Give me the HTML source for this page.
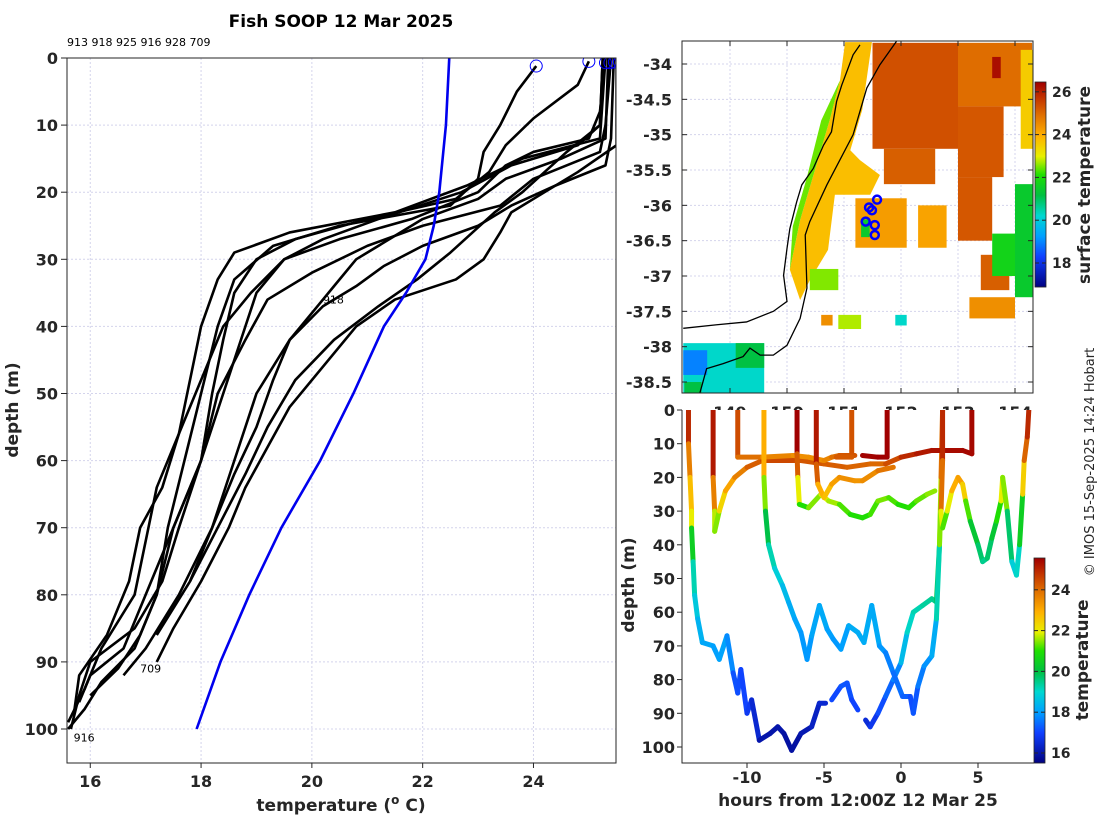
<!DOCTYPE html>
<html><head><meta charset="utf-8"><style>
html,body{margin:0;padding:0;background:#fff;}
svg{display:block;font-family:"DejaVu Sans","Liberation Sans",sans-serif;}
.tk{font-size:16px;font-weight:bold;fill:#262626;}
.lb{font-size:17px;font-weight:bold;fill:#262626;}
</style></head><body>
<svg id="fig" width="1100" height="820" viewBox="0 0 1100 820" xmlns="http://www.w3.org/2000/svg">
<defs>
<clipPath id="clipL"><rect x="67" y="58" width="549" height="705"/></clipPath>
<clipPath id="clipM"><rect x="682" y="41" width="351" height="352"/></clipPath>
<clipPath id="clipB"><rect x="682" y="410" width="352" height="353"/></clipPath>
</defs>
<rect x="0" y="0" width="1100" height="820" fill="#fff"/>
<text x="341" y="27" text-anchor="middle" style="font-size:17px;font-weight:bold" fill="#000">Fish SOOP 12 Mar 2025</text>
<text x="67" y="46" style="font-size:11px" fill="#000">913 918 925 916 928 709</text>
<g id="left"></g>
<g id="map"></g>
<g id="bot"></g>
<text transform="translate(1094,462) rotate(-90)" text-anchor="middle" style="font-size:13px" fill="#262626">© IMOS 15-Sep-2025 14:24 Hobart</text>
</svg>
<script>
// ---------- data ----------
const xTicksL = [16,18,20,22,24];
const yTicksL = [0,10,20,30,40,50,60,70,80,90,100];
const climDepth = [0,10,20,25,30,35,40,50,60,70,80,90,100];
const climTemp = [22.48,22.42,22.3,22.2,22.05,21.7,21.3,20.75,20.15,19.45,18.87,18.35,17.92];
const profA = [[1.2,24.05],[5,23.7],[10,23.4],[14,23.1],[18,23.0],[22,22.5],[25,20.5],[28,19.3],[33,18.6],[40,18.3],[50,18.0],[60,17.7],[70,17.4],[80,17.2],[88,16.8],[93,16.2],[97,15.9],[100,15.6]];
const profB = [[0.5,25.0],[4,24.8],[9,24.0],[13,23.5],[17,23.2],[21,22.6],[24,21.0],[27,19.7],[30,19.0],[35,18.6],[42,18.4],[50,18.2],[60,18.0],[70,17.5],[80,17.0],[88,16.6],[92,16.0],[96,15.8]];
const profC = [[0,25.3],[8,25.2],[12,25.0],[14,24.0],[16,23.5],[20,23.0],[24,21.8],[27,20.5],[30,19.5],[35,19.0],[40,18.8],[50,18.4],[60,18.0],[70,17.5],[80,17.2],[86,16.9],[91,16.5],[95,16.0]];
const profD = [[0,25.4],[10,25.3],[14,25.2],[18,24.0],[22,23.4],[25,22.0],[28,21.0],[32,20.0],[36,19.2],[42,18.8],[50,18.3],[60,18.0],[70,17.6],[78,17.3],[85,16.8],[90,16.0],[95,15.8],[100,15.65]];
const profE = [[0,25.45],[12,25.4],[16,25.3],[19,24.4],[22,23.6],[25,23.0],[28,22.0],[31,21.3],[34,20.8],[37,20.2],[42,19.6],[50,19.0],[60,18.6],[70,18.2],[80,17.6],[88,17.0],[92,16.6]];
const profF = [[0,25.5],[13,25.5],[17,24.8],[20,24.2],[23,23.6],[26,23.4],[30,23.1],[33,22.6],[36,21.5],[40,20.8],[46,20.2],[52,19.6],[58,19.2],[64,18.8],[70,18.5],[78,18.0],[85,17.5],[90,17.2]];
const profG = [[0,25.35],[12,25.3],[15,24.5],[18,23.5],[21,23.0],[24,22.0],[27,21.4],[30,20.8],[34,20.4],[37,20.1],[42,19.6],[48,19.3],[55,19.0],[62,18.6],[70,18.2],[78,17.8],[86,17.2]];
const profH = [[0,25.25],[10,25.2],[14,24.6],[17,24.2],[20,23.8],[23,23.3],[26,22.9],[29,22.5],[33,21.9],[37,21.2],[42,20.4],[48,19.7],[55,19.2],[62,18.8],[70,18.3],[78,17.8]];
const profI = [[0,25.3],[12,25.2],[15,23.8],[19,22.8],[23,21.5],[26,19.6],[29,18.6],[33,18.3],[40,18.0],[48,17.8],[56,17.6],[64,17.3],[70,16.9],[78,16.7],[86,16.3],[92,15.8],[98,15.7]];
const profJ = [[0,25.25],[10,25.2],[13,24.8],[16,23.6],[20,22.7],[24,21.2],[27,20.2],[30,19.5],[35,18.9],[40,18.4],[48,18.0],[56,17.6],[64,17.2],[72,17.0],[80,16.8],[88,16.2],[94,15.9],[99,15.6]];
const startMarkers = [[1.2,24.05],[0.5,25.0],[0.7,25.3],[0.7,25.38],[0.6,25.46],[0.6,25.55]];
const profLabels = [["918",36,20.2],["916",101.3,15.7],["709",91,16.9]];

const mapLatTicks = [-34,-34.5,-35,-35.5,-36,-36.5,-37,-37.5,-38,-38.5];
const mapLonTicks = [149,150,151,152,153,154];
const sstCbTicks = [18,20,22,24,26];
const sstRects = [[151.5,-33.7,153.0,-35.2,25.4],[153.0,-33.7,154.3,-34.6,25.0],[153.0,-34.6,153.8,-35.6,25.3],[151.7,-35.2,152.6,-35.7,25.2],[153.0,-35.6,153.6,-36.5,25.3],[153.4,-36.7,153.9,-37.2,25.2],[153.2,-37.3,154.0,-37.6,24.5],[153.6,-33.9,153.75,-34.2,26.3],[151.2,-35.9,152.1,-36.6,24.3],[152.3,-36.0,152.8,-36.6,24.2],[151.3,-36.2,151.45,-36.45,21.5],[148.18,-37.95,149.6,-38.66,20.3],[148.18,-38.05,148.6,-38.4,19.0],[149.1,-37.95,149.6,-38.3,21.2],[148.2,-38.5,148.5,-38.66,21.2],[154.0,-35.7,154.32,-37.3,21.5],[153.6,-36.4,154.0,-37.0,21.8],[151.9,-37.55,152.1,-37.7,20.3],[150.9,-37.55,151.3,-37.75,22.8],[150.6,-37.55,150.8,-37.7,24.5],[150.4,-36.9,150.9,-37.2,22.6],[154.1,-33.8,154.32,-35.2,23.6]];
const sstCoastStrip = [[151.02,-33.69],[151.49,-33.69],[151.32,-34.65],[151.11,-35.22],[151.28,-35.36],[151.63,-35.57],[151.46,-35.85],[150.84,-35.85],[150.72,-36.63],[150.40,-37.06],[150.23,-37.34],[150.05,-36.91],[150.23,-36.21],[150.49,-35.5],[150.75,-34.79],[150.93,-34.23]];
const sstCoastStripT = 23.8;
const sstInnerStrip = [[150.93,-34.23],[150.75,-34.79],[150.49,-35.5],[150.23,-36.21],[150.05,-36.91],[150.1,-36.3],[150.35,-35.6],[150.6,-34.8]];
const sstInnerStripT = 22.5;
const coastLon = [151.28,151.16,150.96,150.87,150.78,150.64,150.46,150.26,150.17,150.05,150.0,149.94,150.0,149.76,149.29,148.77,148.18];
const coastLat = [-33.73,-33.87,-34.30,-34.53,-34.96,-35.15,-35.48,-35.71,-35.95,-36.33,-36.61,-36.99,-37.36,-37.5,-37.65,-37.69,-37.74];
const isoLon = [151.92,151.63,151.40,151.16,150.70,150.40,150.32,150.35,150.23,150.0,149.76,149.53,149.35,149.23,148.88,148.59,148.47];
const isoLat = [-33.68,-34.01,-34.34,-35.0,-35.71,-36.23,-36.42,-37.17,-37.6,-37.98,-38.12,-38.12,-38.02,-38.14,-38.24,-38.31,-38.66];
const stationLon = [151.58,151.44,151.49,151.38,151.54,151.54];
const stationLat = [-35.92,-36.03,-36.07,-36.23,-36.28,-36.42];

const botXTicks = [-10,-5,0,5];
const botYTicks = [0,10,20,30,40,50,60,70,80,90,100];
const tempCbTicks = [16,18,20,22,24];
const track1 = [[-13.8,0,25.5],[-13.8,10,24.5],[-13.7,20,23],[-13.6,30,22.5],[-13.6,35,21.5],[-13.5,45,19.5],[-13.4,55,19],[-13.2,62,18.5],[-12.9,69,18.2],[-12.2,70,18.1],[-11.8,74,18],[-11.3,67,18.2],[-10.9,78,17.4],[-10.6,84,17],[-10.4,77,17.3],[-10.0,90,16.8],[-9.7,86,16.9],[-9.2,98,16],[-8.5,96,16],[-8.0,94,16],[-7.6,96,16],[-7.1,101,15.8],[-6.5,96,16],[-5.8,94,16.2],[-5.3,87,16.4],[-4.9,87,16.5]];
const track1b = [[-4.5,86,17],[-3.9,82,17.2],[-3.5,81,17.3],[-3.2,86,17.1],[-2.8,89,17]];
const track1c = [[-2.3,92,16.5],[-2.0,94,16.6],[-1.5,90,17],[-1.0,85,17.3],[-0.5,80,17.5],[0,75,18],[0.4,66,19],[0.8,60,19.2],[1.4,58,19.3],[2.0,56,19.5],[2.3,57,19.5],[2.5,40,20.5],[2.6,20,23],[2.7,0,25]];
const track2 = [[-12.2,0,25.5],[-12.2,20,25],[-12.1,30,22.5],[-12.1,36,21],[-11.8,30,22],[-11.4,24,22.8],[-10.8,20,23.5],[-10,17,24],[-9,15,24.5],[-8,15,24.6],[-6.5,15,24.5],[-5,16,24.2],[-3.5,17,24.3],[-2,16,24],[-1,16,24.2],[0,14,24.8],[1,13,25.2],[2,12,25.3],[3,12,25.4],[4,12,25.5],[4.6,13,25.5],[4.6,0,25.5]];
const track3 = [[-10.6,0,24.8],[-10.6,14,24.2],[-9,14,23.8],[-7,13.5,23.5],[-6,14,23.5],[-5,15,23.5],[-4.5,14,23.8],[-4,13.5,24.2],[-3,13.5,24.5]];
const track3b = [[-2.5,13.5,25.5],[-1.5,14,25.6],[-0.9,14,25.7],[-0.9,0,25.7]];
const track4 = [[-8.9,0,23.5],[-8.9,20,22.5],[-8.8,30,20.5],[-8.6,40,19.5],[-8.2,47,19],[-7.7,52,18.7],[-7.3,57,18.3],[-6.9,62,18.2],[-6.5,66,18],[-6.1,74,17.9],[-5.8,67,18],[-5.3,58,18.3],[-4.8,65,18.1],[-4.4,68,18],[-3.9,71,17.9],[-3.4,64,18.2],[-2.8,66,18.3],[-2.4,69,18.2],[-1.9,58,18.3],[-1.4,70,18.1],[-1,72,17.8],[-0.5,78,17.6],[0.1,85,17.4],[0.6,85,17.3],[0.8,90,17],[1.1,82,17.5],[1.5,76,17.8],[2,73,18],[2.3,62,18.5],[2.5,40,20],[2.6,25,23]];
const track5 = [[-6.75,0,25.7],[-6.75,13,25.5],[-6.7,20,23],[-6.6,28,21],[-6,29,21],[-5.2,25,22],[-4.7,27,21.8],[-4,28,21.5],[-3.3,31,21],[-2.5,32,21],[-2,31,21],[-1.5,27,21.4],[-0.8,26,21.5],[-0.2,28,21],[0.5,29,21],[1,27,21.2],[1.7,25,21.5],[2.2,24,21.6]];
const track6 = [[-5.5,0,25.5],[-5.5,16,25],[-5.4,22,23.5],[-5,26,22.5],[-4.5,22,23],[-4,20,23.5],[-3,21,23.5],[-2.5,21,23.3],[-1.5,18,23.8],[-0.5,17,24]];
const track7 = [[-3.2,0,24.5],[-3.2,14,24.3],[-4.2,14,24.3]];
const track8 = [[2.7,0,25],[2.7,15,25],[2.6,30,23],[2.7,35,21],[3,30,21.5],[3.3,24,22.5],[3.7,20,23.5],[4,22,23],[4.2,27,22],[4.5,33,20.5],[5,40,20],[5.3,45,19.5],[5.6,44,19.5],[5.9,38,20],[6.2,33,20.5],[6.5,27,21.5],[6.6,20,22.5],[6.9,30,20.5],[7.2,45,19],[7.5,49,18.7],[7.7,40,19.5],[7.9,25,21.5],[8.0,15,23.5],[8.2,8,24.8],[8.3,0,25.2]];

// ---------- helpers ----------
const NS = "http://www.w3.org/2000/svg";
function mk(tag, attrs, parent){const e=document.createElementNS(NS,tag);for(const k in attrs)e.setAttribute(k,attrs[k]);parent.appendChild(e);return e;}
const jetStops=[[0,[0,0,128]],[0.15,[16,64,255]],[0.25,[0,160,255]],[0.35,[0,216,208]],[0.45,[0,192,64]],[0.55,[32,224,0]],[0.64,[232,240,0]],[0.74,[255,176,0]],[0.84,[224,112,0]],[0.93,[192,48,0]],[1,[160,0,0]]];
function jet(f){f=Math.max(0,Math.min(1,f));for(let i=1;i<jetStops.length;i++){if(f<=jetStops[i][0]){const a=jetStops[i-1],b=jetStops[i];const u=(f-a[0])/(b[0]-a[0]);const c=a[1].map((v,j)=>Math.round(v+(b[1][j]-v)*u));return `rgb(${c[0]},${c[1]},${c[2]})`;}}return "rgb(160,0,0)";}

// ---------- left panel ----------
const L=document.getElementById('left');
const xL=t=>67+(t-15.58)*55.4, yL=d=>58+d*6.71;
xTicksL.forEach(t=>{const g=mk('line',{x1:xL(t),x2:xL(t),y1:58,y2:763,stroke:'#d4d4ec','stroke-dasharray':'2,2','stroke-width':1},L);
 const tx=mk('text',{x:xL(t),y:787,'text-anchor':'middle',class:'tk'},L);tx.textContent=t;
 const tk=mk('line',{x1:xL(t),x2:xL(t),y1:763,y2:768,stroke:'#262626'},L);});
yTicksL.forEach(d=>{const g=mk('line',{x1:67,x2:616,y1:yL(d),y2:yL(d),stroke:'#d4d4ec','stroke-dasharray':'2,2','stroke-width':1},L);
 const tx=mk('text',{x:58,y:yL(d)+6,'text-anchor':'end',class:'tk'},L);tx.textContent=d;
 const tk=mk('line',{x1:61,x2:67,y1:yL(d),y2:yL(d),stroke:'#262626'},L);});
const LG=mk('g',{'clip-path':'url(#clipL)'},L);

[profA,profB,profC,profD,profE,profF,profG,profH,profI,profJ].forEach(p=>{const pl=mk('polyline',{points:p.map(q=>xL(q[1])+','+yL(q[0])).join(' '),fill:'none',stroke:'#000','stroke-width':2.6,'stroke-linejoin':'round'},LG);});
const cl=mk('polyline',{points:climDepth.map((d,i)=>xL(climTemp[i])+','+yL(d)).join(' '),fill:'none',stroke:'#0000ee','stroke-width':2.6},LG);

startMarkers.forEach(m=>{const c=mk('circle',{cx:xL(m[1]),cy:yL(m[0]),r:6,fill:'none',stroke:'#0000ff','stroke-width':1},LG);});
profLabels.forEach(l=>{const t=mk('text',{x:xL(l[2]),y:yL(l[1])+4,style:'font-size:11px',fill:'#000'},LG);t.textContent=l[0];});
const bL=mk('rect',{x:67,y:58,width:549,height:705,fill:'none',stroke:'#262626','stroke-width':1},L);
const xlab=mk('text',{x:341,y:811,'text-anchor':'middle',class:'lb'},L);xlab.innerHTML='temperature (<tspan dy="-7" style="font-size:12px">o</tspan><tspan dy="7"> C)</tspan>';

const ylab=mk('text',{transform:'translate(18,410) rotate(-90)','text-anchor':'middle',class:'lb'},L);ylab.textContent='depth (m)';


// ---------- map panel ----------
const M=document.getElementById('map');
const xM=lon=>730+(lon-149)*57, yM=lat=>64+(-34-lat)*70.67;
const sstF=t=>(t-16.9)/(26.5-16.9);
mapLonTicks.forEach(lo=>{const t=mk('text',{x:xM(lo),y:418,'text-anchor':'middle',class:'tk'},M);t.textContent=lo;});
const MG=mk('g',{'clip-path':'url(#clipM)'},M);

mk('rect',{x:682,y:41,width:351,height:352,fill:'#fff'},MG);
mapLonTicks.forEach(lo=>{const g=mk('line',{x1:xM(lo),x2:xM(lo),y1:41,y2:393,stroke:'#d4d4ec','stroke-dasharray':'2,2'},MG);});
mapLatTicks.forEach(la=>{const g=mk('line',{x1:682,x2:1033,y1:yM(la),y2:yM(la),stroke:'#d4d4ec','stroke-dasharray':'2,2'},MG);});
const strip=mk('polygon',{points:sstCoastStrip.map(p=>xM(p[0])+','+yM(p[1])).join(' '),fill:jet(sstF(sstCoastStripT))},MG);
const strip2=mk('polygon',{points:sstInnerStrip.map(p=>xM(p[0])+','+yM(p[1])).join(' '),fill:jet(sstF(sstInnerStripT))},MG);
sstRects.forEach(r=>{const e=mk('rect',{x:xM(r[0]),y:yM(r[1]),width:xM(r[2])-xM(r[0]),height:yM(r[3])-yM(r[1]),fill:jet(sstF(r[4]))},MG);});
const coast=mk('polyline',{points:coastLon.map((lo,i)=>xM(lo)+','+yM(coastLat[i])).join(' '),fill:'none',stroke:'#000','stroke-width':1.3},MG);
const iso=mk('polyline',{points:isoLon.map((lo,i)=>xM(lo)+','+yM(isoLat[i])).join(' '),fill:'none',stroke:'#000','stroke-width':1.3},MG);
stationLon.forEach((lo,i)=>{const c=mk('circle',{cx:xM(lo),cy:yM(stationLat[i]),r:4,fill:'none',stroke:'#0000ff','stroke-width':2.5},MG);});
mapLatTicks.forEach(la=>{const t=mk('text',{x:672,y:yM(la)+6,'text-anchor':'end',class:'tk'},M);t.textContent=la;
 const a=mk('line',{x1:682,x2:687,y1:yM(la),y2:yM(la),stroke:'#262626'},M);
 const b=mk('line',{x1:1028,x2:1033,y1:yM(la),y2:yM(la),stroke:'#262626'},M);});
mapLonTicks.forEach(lo=>{const a=mk('line',{x1:xM(lo),x2:xM(lo),y1:41,y2:46,stroke:'#262626'},M);
 const b=mk('line',{x1:xM(lo),x2:xM(lo),y1:388,y2:393,stroke:'#262626'},M);});
const bM=mk('rect',{x:682,y:41,width:351,height:352,fill:'none',stroke:'#262626'},M);
const cbS=mk('g',{},M);
const yS=t=>263-(t-18)*21.4;
for(let i=0;i<205;i++){const f=1-i/205;mk('rect',{x:1035,y:82+i,width:11,height:1.2,fill:jet(f)},cbS);}
mk('rect',{x:1035,y:82,width:11,height:205,fill:'none',stroke:'#262626','stroke-width':0.8},cbS);
sstCbTicks.forEach(t=>{mk('line',{x1:1035,x2:1039,y1:yS(t),y2:yS(t),stroke:'#262626'},cbS);mk('line',{x1:1042,x2:1046,y1:yS(t),y2:yS(t),stroke:'#262626'},cbS);const e=mk('text',{x:1052,y:yS(t)+5,style:'font-size:14px;font-weight:bold',fill:'#262626'},cbS);e.textContent=t;});
const sl=mk('text',{transform:'translate(1090,185) rotate(-90)','text-anchor':'middle',class:'lb'},M);sl.textContent='surface temperature';

// ---------- bottom panel ----------
const B=document.getElementById('bot');
const xB=h=>747+(h+10)*15.4, yB=d=>410+d*3.37;
const tF=t=>(t-15.5)/(25.6-15.5);
mk('rect',{x:682,y:410,width:352,height:353,fill:'#fff'},B);
const BG=mk('g',{'clip-path':'url(#clipB)'},B);

[track1,track1b,track1c,track2,track3,track3b,track4,track5,track6,track7,track8].forEach(tr=>{
 const g=mk('g',{},BG);
 for(let i=1;i<tr.length;i++){const a=tr[i-1],b=tr[i];mk('line',{x1:xB(a[0]),y1:yB(a[1]),x2:xB(b[0]),y2:yB(b[1]),stroke:jet(tF((a[2]+b[2])/2)),'stroke-width':5,'stroke-linecap':'round'},g);}
});
botXTicks.forEach(h=>{const t=mk('text',{x:xB(h),y:783,'text-anchor':'middle',class:'tk'},B);t.textContent=h;
 const k=mk('line',{x1:xB(h),x2:xB(h),y1:763,y2:768,stroke:'#262626'},B);});
botYTicks.forEach(d=>{const t=mk('text',{x:675,y:yB(d)+6,'text-anchor':'end',class:'tk'},B);t.textContent=d;
 const k=mk('line',{x1:677,x2:682,y1:yB(d),y2:yB(d),stroke:'#262626'},B);});
const bB=mk('path',{d:'M682,410 V763 H1034',fill:'none',stroke:'#262626'},B);
const hx=mk('text',{x:858,y:806,'text-anchor':'middle',class:'lb'},B);hx.textContent='hours from 12:00Z 12 Mar 25';
const hy=mk('text',{transform:'translate(634,585) rotate(-90)','text-anchor':'middle',class:'lb'},B);hy.textContent='depth (m)';
const cbT=mk('g',{},B);
const yT=t=>753-(t-16)*20.4;
for(let i=0;i<205;i++){const f=1-i/205;mk('rect',{x:1034,y:558+i,width:11,height:1.2,fill:jet(f)},cbT);}
mk('rect',{x:1034,y:558,width:11,height:205,fill:'none',stroke:'#262626','stroke-width':0.8},cbT);
tempCbTicks.forEach(t=>{mk('line',{x1:1034,x2:1038,y1:yT(t),y2:yT(t),stroke:'#262626'},cbT);mk('line',{x1:1041,x2:1045,y1:yT(t),y2:yT(t),stroke:'#262626'},cbT);const e=mk('text',{x:1051,y:yT(t)+5,style:'font-size:14px;font-weight:bold',fill:'#262626'},cbT);e.textContent=t;});
const tl=mk('text',{transform:'translate(1088,660) rotate(-90)','text-anchor':'middle',class:'lb'},B);tl.textContent='temperature';
</script>
</body></html>
